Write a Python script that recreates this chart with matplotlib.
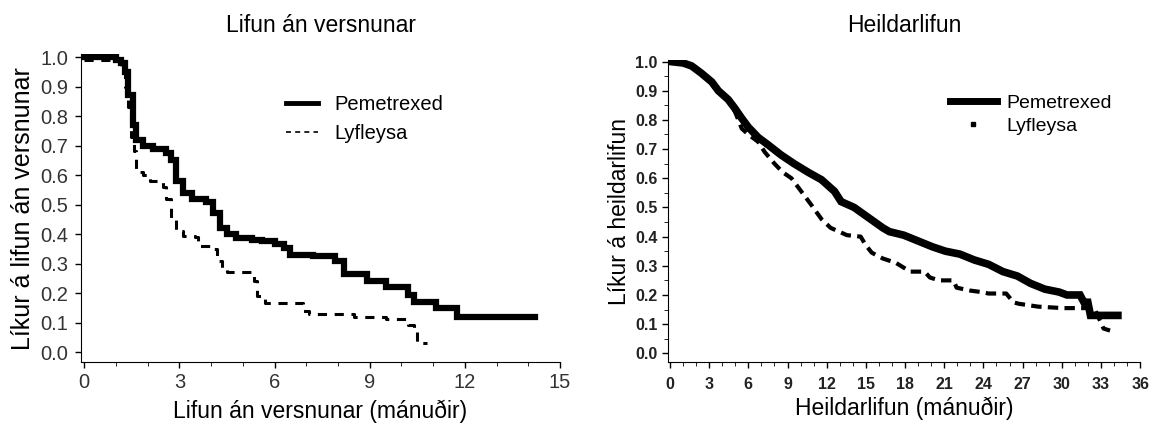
import matplotlib
matplotlib.use("Agg")
from matplotlib import pyplot as plt
from matplotlib.lines import Line2D
from matplotlib.ticker import MultipleLocator

plt.rcParams['font.family'] = ['Liberation Sans', 'DejaVu Sans']

# Progression-free survival (months, probability)
pfs_pem_t = [0, 1.0, 1.16, 1.27, 1.37, 1.53, 1.64, 1.85, 2.16, 2.58, 2.74, 2.9, 3.1, 3.4,
             3.85, 4.06, 4.27, 4.5, 4.8, 5.3, 5.6, 6.0, 6.3, 6.5, 7.2, 7.9, 8.2, 8.9, 9.5,
             10.2, 10.4, 11.1, 11.76, 14.2]
pfs_pem_s = [1.0, 0.99, 0.98, 0.95, 0.87, 0.77, 0.72, 0.70, 0.69, 0.675, 0.65, 0.58, 0.54, 0.52,
             0.51, 0.47, 0.42, 0.40, 0.385, 0.38, 0.375, 0.365, 0.354, 0.33, 0.325, 0.31, 0.265, 0.24,
             0.22, 0.195, 0.17, 0.15, 0.12, 0.12]
pfs_pla_t = [0, 1.0, 1.16, 1.27, 1.37, 1.48, 1.58, 1.64, 1.85, 2.06, 2.48, 2.58, 2.74, 2.9,
             3.1, 3.5, 3.6, 3.95, 4.2, 4.35, 4.5, 5.35, 5.45, 5.7, 6.9, 7.1, 8.5, 9.5, 10.2,
             10.4, 10.5, 10.8]
pfs_pla_s = [0.99, 0.985, 0.965, 0.90, 0.83, 0.73, 0.68, 0.61, 0.60, 0.58, 0.56, 0.52, 0.455, 0.41,
             0.395, 0.39, 0.36, 0.35, 0.31, 0.28, 0.27, 0.24, 0.19, 0.165, 0.14, 0.13, 0.12, 0.112, 0.092,
             0.07, 0.03, 0.03]

# Overall survival (months, probability)
os_pem_t = [0, 1.0, 1.65, 2.4, 3.2, 3.7, 4.45, 4.96, 5.5, 6.0, 6.75, 7.5, 8.5, 9.5, 10.6,
            11.6, 12.6, 13.1, 14.1, 15.2, 16.3, 16.8, 17.9, 19.0, 20.1, 21.1, 22.2, 23.3,
            24.4, 25.5, 26.6, 27.6, 28.7, 29.8, 30.4, 31.4, 31.7, 32.0, 32.2, 34.3]
os_pem_s = [1.0, 0.995, 0.985, 0.96, 0.93, 0.90, 0.87, 0.84, 0.805, 0.775, 0.74, 0.715, 0.68, 0.65, 0.62,
            0.595, 0.555, 0.52, 0.50, 0.465, 0.43, 0.417, 0.405, 0.385, 0.365, 0.35, 0.34, 0.32,
            0.305, 0.28, 0.265, 0.24, 0.22, 0.21, 0.20, 0.20, 0.175, 0.175, 0.13, 0.13]
os_pla_t = [0, 1.0, 1.65, 2.4, 3.2, 3.7, 4.45, 4.96, 5.5, 6.0, 6.75, 7.25, 8.0, 8.65, 9.3,
            10.05, 10.8, 11.6, 12.3, 13.55, 14.6, 15.0, 15.45, 16.3, 17.3, 18.4, 19.5, 19.9, 20.6,
            21.7, 21.95, 23.0, 23.85, 24.4, 25.75, 26.3, 26.7, 28.2, 30.1, 32.5, 33.2, 33.7]
os_pla_s = [1.0, 0.995, 0.985, 0.96, 0.93, 0.90, 0.87, 0.83, 0.77, 0.75, 0.725, 0.69, 0.65, 0.62, 0.60,
            0.555, 0.51, 0.46, 0.43, 0.405, 0.40, 0.37, 0.345, 0.325, 0.31, 0.28, 0.28, 0.26, 0.25,
            0.25, 0.225, 0.215, 0.21, 0.205, 0.205, 0.175, 0.17, 0.16, 0.155, 0.155, 0.085, 0.078]

series_names = ['Pemetrexed', 'Lyfleysa']

fig = plt.figure(figsize=(11.53, 4.26), dpi=100)
ax1 = fig.add_axes([0.0703, 0.150, 0.4154, 0.723])
ax2 = fig.add_axes([0.5794, 0.150, 0.4094, 0.709])

# left panel
ax1.step(pfs_pem_t, pfs_pem_s, where='post', color='black', lw=4.5, solid_joinstyle='miter')
ax1.step(pfs_pla_t, pfs_pla_s, where='post', color='black', lw=2.2, linestyle=(0, (3, 2.5)))
ax1.set_xlim(-0.1, 15)
ax1.set_ylim(-0.034, 1.01)
ax1.set_xticks(range(0, 16, 3))
ax1.xaxis.set_minor_locator(MultipleLocator(1))
ax1.set_yticks([i / 10 for i in range(11)])
ax1.set_yticklabels([f'{i / 10:.1f}' for i in range(11)])
ax1.tick_params(axis='both', labelsize=14.5, labelcolor='#333333', length=4, width=1)
ax1.tick_params(axis='x', which='minor', length=3)
ax1.tick_params(axis='x', pad=4)
ax1.tick_params(axis='y', pad=5)
ax1.set_title('Lifun án versnunar', fontsize=16.5, pad=16)
ax1.set_xlabel('Lifun án versnunar (mánuðir)', fontsize=16.5, labelpad=5)
ax1.set_ylabel('Líkur á lifun án versnunar', fontsize=18, labelpad=4)
leg1 = [Line2D([], [], color='black', lw=3.5),
        Line2D([], [], color='black', lw=1.2, linestyle=(0, (3, 2.5)))]
ax1.legend(leg1, series_names, loc='upper left', bbox_to_anchor=(0.39, 0.925),
           frameon=False, fontsize=14.5, handlelength=1.6, handletextpad=0.8, labelspacing=0.5)

# right panel
ax2.plot(os_pem_t, os_pem_s, color='black', lw=5.5, solid_joinstyle='miter')
ax2.plot(os_pla_t, os_pla_s, color='black', lw=3, linestyle=(0, (2.5, 1.5)))
ax2.set_xlim(-0.15, 36)
ax2.set_ylim(-0.03, 1.005)
ax2.set_xticks(range(0, 37, 3))
ax2.xaxis.set_minor_locator(MultipleLocator(1))
ax2.set_yticks([i / 10 for i in range(11)])
ax2.set_yticklabels([f'{i / 10:.1f}' for i in range(11)])
ax2.yaxis.set_minor_locator(MultipleLocator(0.05))
ax2.tick_params(axis='both', labelsize=11.5, length=4, width=1)
ax2.tick_params(axis='both', which='minor', length=3)
ax2.tick_params(axis='x', pad=7)
for lab in ax2.get_xticklabels() + ax2.get_yticklabels():
    lab.set_family(['Liberation Sans Narrow', 'Liberation Sans'])
    lab.set_fontweight('bold')
    lab.set_color('#222222')
ax2.set_title('Heildarlifun', fontsize=16.5, pad=20)
ax2.set_xlabel('Heildarlifun (mánuðir)', fontsize=16.5, labelpad=3)
ax2.set_ylabel('Líkur á heildarlifun', fontsize=16.5, labelpad=3)
leg2 = [Line2D([], [], color='black', lw=5),
        Line2D([], [], color='black', linestyle='none', marker='s', markersize=2.5)]
ax2.legend(leg2, series_names, loc='upper left', bbox_to_anchor=(0.56, 0.945),
           frameon=False, fontsize=14, handlelength=2.4, handletextpad=0.5, labelspacing=0.3)

for ax in (ax1, ax2):
    ax.spines['top'].set_visible(False)
    ax.spines['right'].set_visible(False)

fig.savefig('out.png', dpi=100)
